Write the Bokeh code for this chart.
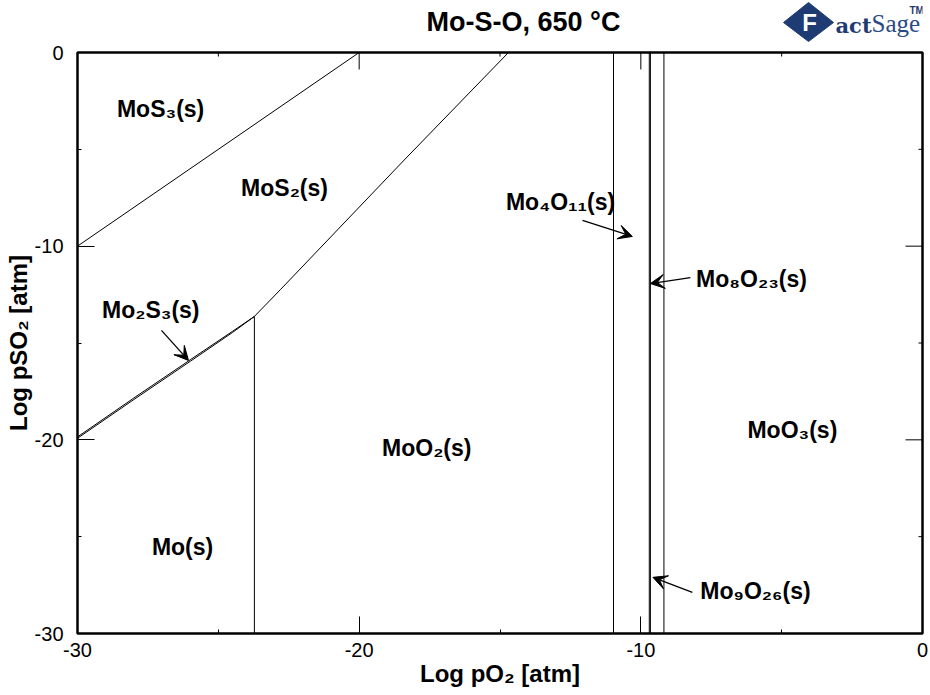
import math
from bokeh.plotting import figure
from bokeh.layouts import column
from bokeh.models import LinearAxis, FixedTicker, Range1d, Arrow, VeeHead, ColumnDataSource
from bokeh.embed import file_html
from bokeh.resources import INLINE
from bokeh.core.properties import value

# ---------------- data ----------------
# phase boundaries (log pO2, log pSO2)
mos3_mos2_x = [-30.0, -20.0]
mos3_mos2_y = [-10.0, 0.0]

mo2s3_top_x = [-30.0, -28.0, -26.0, -24.5, -23.72]
mo2s3_top_y = [-19.85, -17.84, -15.87, -14.40, -13.63]
mo2s3_bot_x = [-30.0, -28.0, -26.0, -24.5, -23.72]
mo2s3_bot_y = [-19.92, -17.92, -15.95, -14.46, -13.63]

mos2_moo2_x = [-23.72, -22.8, -18.4, -14.7]
mos2_moo2_y = [-13.63, -12.25, -5.55, 0.0]

mo_moo2_x = [-23.72, -23.72]
mo_moo2_y = [-13.63, -30.0]

vertical_x = [-10.97, -9.70, -9.66, -9.18]   # MoO2/Mo4O11, Mo4O11/Mo8O23, Mo8O23/Mo9O26, Mo9O26/MoO3

region_names = ["MoS\u2083(s)", "MoS\u2082(s)", "Mo\u2084O\u2081\u2081(s)", "Mo\u2088O\u2082\u2083(s)",
                "Mo\u2082S\u2083(s)", "MoO\u2082(s)", "MoO\u2083(s)", "Mo(s)", "Mo\u2089O\u2082\u2086(s)"]
region_x = [-27.05, -22.65, -12.85, -6.07, -27.4, -17.6, -4.62, -26.27, -5.93]
region_y = [-2.9, -7.0, -7.7, -11.7, -13.3, -20.4, -19.5, -25.55, -27.8]

# arrows: start (x, y) -> tip (x, y)
arrow_x0 = [-12.07, -8.24, -27.02, -8.17]
arrow_y0 = [-8.67, -11.62, -14.35, -27.88]
arrow_x1 = [-10.30, -9.66, -26.06, -9.57]
arrow_y1 = [-9.50, -11.93, -15.90, -27.10]

major_ticks = [-30, -20, -10, 0]
minor_ticks = [-25, -15, -5]

title_text = "Mo-S-O, 650 \u00b0C"

FONT = "Liberation Sans"
NAVY = "#1f3b73"

FRAME_L, FRAME_R = 77, 922

# ---------------- header strip (title + logo) ----------------
# the column layout aligns this strip's frame with the diagram's frame,
# so its x range is expressed in page pixels of that frame
HEAD_H = 42
head = figure(width=930, height=HEAD_H, output_backend="svg", toolbar_location=None,
              x_range=Range1d(FRAME_L, FRAME_R), y_range=Range1d(HEAD_H, 0),
              x_axis_location=None, y_axis_location=None,
              min_border_left=FRAME_L, min_border_right=930 - FRAME_R,
              min_border_top=0, min_border_bottom=0)
head.grid.visible = False
head.outline_line_color = None
head.background_fill_color = "white"
head.border_fill_color = "white"

head.text(x=[523], y=[21], text=[title_text], text_font=value(FONT), text_font_style="bold",
          text_font_size="27px", text_align="center", text_baseline="middle", text_color="black")

# logo: diamond + letters
head.patch(x=[783, 808, 833, 808], y=[22, 2, 22, 41], fill_color=NAVY, line_color=NAVY)
head.text(x=[809], y=[22], text=["F"], text_font=value(FONT), text_font_style="bold",
          text_font_size="24px", text_align="center", text_baseline="middle", text_color="white")
head.text(x=[835], y=[25], text=["act"], text_font=value("DejaVu Serif"), text_font_style="bold",
          text_font_size="21px", text_align="left", text_baseline="middle", text_color=NAVY)
head.text(x=[871], y=[23], text=["Sage"], text_font=value("Liberation Sans Narrow"),
          text_font_size="25px", text_align="left", text_baseline="middle", text_color="#2a4b86")
head.text(x=[909], y=[10], text=["TM"], text_font=value(FONT), text_font_style="bold",
          text_font_size="10px", text_align="left", text_baseline="middle", text_color=NAVY)

# ---------------- main diagram ----------------
p = figure(width=930, height=695 - HEAD_H, output_backend="svg", toolbar_location=None,
           x_range=Range1d(-30, 0), y_range=Range1d(-30, 0),
           x_axis_location=None, y_axis_location=None,
           min_border_left=FRAME_L, min_border_right=930 - FRAME_R,
           min_border_top=52 - HEAD_H, min_border_bottom=62)
p.grid.visible = False
p.outline_line_color = "black"
p.outline_line_width = 2.5
p.background_fill_color = "white"
p.border_fill_color = "white"

ticker = FixedTicker(ticks=major_ticks, minor_ticks=minor_ticks)

def make_axis(label):
    ax = LinearAxis(ticker=ticker)
    ax.axis_line_color = None
    ax.major_tick_in = 17
    ax.major_tick_out = 0
    ax.minor_tick_in = 4
    ax.minor_tick_out = 0
    ax.major_tick_line_color = "black"
    ax.minor_tick_line_color = "black"
    ax.major_tick_line_width = 1
    ax.major_label_text_font = FONT
    ax.major_label_text_font_size = "20px"
    ax.major_label_text_color = "black"
    ax.major_label_overrides = {t: str(t) for t in major_ticks}
    ax.axis_label = label
    ax.axis_label_text_font = FONT
    ax.axis_label_text_font_style = "bold"
    ax.axis_label_text_font_size = "24px"
    ax.axis_label_text_color = "black"
    ax.axis_label_standoff = 0
    return ax

xax = make_axis("Log pO\u2082 [atm]")
xax.major_label_standoff = 9
yax = make_axis("Log pSO\u2082 [atm]")
yax.major_label_standoff = 14
p.add_layout(xax, "below")
p.add_layout(yax, "left")

# ticks on the top and right edges (pointing inward)
n_maj, n_min = len(major_ticks), len(minor_ticks)
p.ray(x=major_ticks, y=[0] * n_maj, length=17, length_units="screen", angle=-math.pi / 2,
      line_color="black", line_width=1)
p.ray(x=minor_ticks, y=[0] * n_min, length=4, length_units="screen", angle=-math.pi / 2,
      line_color="black", line_width=1)
p.ray(x=[0] * n_maj, y=major_ticks, length=17, length_units="screen", angle=math.pi,
      line_color="black", line_width=1)
p.ray(x=[0] * n_min, y=minor_ticks, length=4, length_units="screen", angle=math.pi,
      line_color="black", line_width=1)

# boundaries
p.line(mos3_mos2_x, mos3_mos2_y, line_color="black", line_width=1)
p.line(mo2s3_top_x, mo2s3_top_y, line_color="black", line_width=1)
p.line(mo2s3_bot_x, mo2s3_bot_y, line_color="black", line_width=1)
p.line(mos2_moo2_x, mos2_moo2_y, line_color="black", line_width=1)
p.line(mo_moo2_x, mo_moo2_y, line_color="black", line_width=1)
p.segment(x0=vertical_x, y0=[-30] * len(vertical_x), x1=vertical_x, y1=[0] * len(vertical_x),
          line_color="black", line_width=1)

# region labels
src = ColumnDataSource(dict(x=region_x, y=region_y, t=region_names))
p.text(x="x", y="y", text="t", source=src, text_font=value(FONT), text_font_style="bold",
       text_font_size="23px", text_align="center", text_baseline="middle", text_color="black")

# arrows
for xs, ys, xe, ye in zip(arrow_x0, arrow_y0, arrow_x1, arrow_y1):
    p.add_layout(Arrow(x_start=xs, y_start=ys, x_end=xe, y_end=ye, line_width=1.3,
                       end=VeeHead(size=14, fill_color="black", line_color="black", line_width=1)))

layout = column(head, p, spacing=0)
open("out.html", "w").write(file_html(layout, INLINE))
